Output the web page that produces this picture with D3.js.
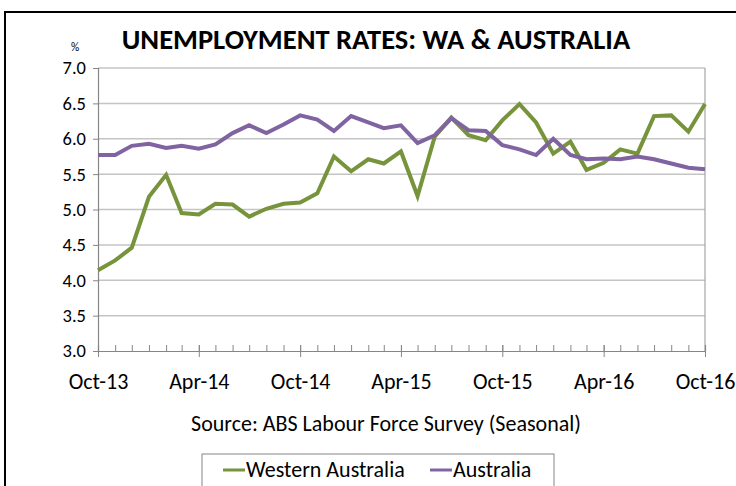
<!doctype html>
<html>
<head>
<script src="https://d3js.org/d3.v7.min.js"></script>
<style>
  body { margin: 0; background: #fff; }
  text { font-family: Carlito, "Liberation Sans Narrow", "Open Sans", sans-serif; fill: #000; }
</style>
</head>
<body>
<script>
// monthly series, Oct-13 .. Oct-16
var waRate = [4.14, 4.28, 4.46, 5.18, 5.49, 4.95, 4.93, 5.08, 5.07, 4.90,
              5.01, 5.08, 5.10, 5.23, 5.75, 5.54, 5.71, 5.65, 5.82, 5.19,
              6.03, 6.30, 6.05, 5.98, 6.26, 6.49, 6.23, 5.79, 5.96, 5.56,
              5.66, 5.85, 5.79, 6.32, 6.33, 6.10, 6.49];
var ausRate = [5.77, 5.77, 5.90, 5.93, 5.87, 5.90, 5.86, 5.92, 6.08, 6.19,
               6.08, 6.20, 6.33, 6.27, 6.11, 6.32, 6.23, 6.15, 6.19, 5.94,
               6.05, 6.29, 6.12, 6.11, 5.91, 5.85, 5.77, 6.00, 5.77, 5.71,
               5.72, 5.71, 5.75, 5.71, 5.65, 5.59, 5.57];
var yTicks = [3.0, 3.5, 4.0, 4.5, 5.0, 5.5, 6.0, 6.5, 7.0];
var seriesNames = ["Western Australia", "Australia"];

var months = d3.timeMonth.range(new Date(2013, 9, 1), new Date(2016, 10, 1));

var W = 736, H = 486;
var svg = d3.select("body").append("svg")
    .attr("width", W).attr("height", H);

// outer chart frame
svg.append("rect")
    .attr("x", 5).attr("y", 12)
    .attr("width", 800).attr("height", 600)
    .attr("fill", "none").attr("stroke", "#000").attr("stroke-width", 2);

var plot = {left: 98, right: 705, top: 68, bottom: 351};

var x = d3.scaleTime()
    .domain([months[0], months[months.length - 1]])
    .range([plot.left, plot.right]);
var y = d3.scaleLinear()
    .domain([3, 7])
    .range([plot.bottom, plot.top]);

// gridlines
svg.append("g").selectAll("line")
    .data(yTicks.slice(1))
    .enter().append("line")
    .attr("x1", plot.left).attr("x2", plot.right)
    .attr("y1", d => y(d)).attr("y2", d => y(d))
    .attr("stroke", "#c4c4c4").attr("stroke-width", 1.5);

// right border of plot area
svg.append("line")
    .attr("x1", plot.right).attr("x2", plot.right)
    .attr("y1", plot.top).attr("y2", plot.bottom)
    .attr("stroke", "#a6a6a6").attr("stroke-width", 1.2);

// y axis
var yAxis = svg.append("g")
    .attr("transform", "translate(" + plot.left + ",0)")
    .call(d3.axisLeft(y).tickValues(yTicks).tickFormat(d3.format(".1f")).tickSize(5).tickPadding(7));
yAxis.select(".domain").attr("stroke", "#868686").attr("stroke-width", 1.2);
yAxis.selectAll(".tick line").attr("stroke", "#868686");
yAxis.selectAll("text").attr("font-size", 18.5).attr("font-family", null);

// x axis: monthly minor ticks inside, 6-monthly major ticks
var xAxis = svg.append("g")
    .attr("transform", "translate(0," + plot.bottom + ")")
    .call(d3.axisBottom(x).tickValues(months).tickSize(-6).tickFormat(""));
xAxis.select(".domain").attr("stroke", "#868686").attr("stroke-width", 1.2);
xAxis.selectAll(".tick line").attr("stroke", "#868686");

var majors = months.filter((d, i) => i % 6 === 0);
var xMajor = svg.append("g")
    .attr("transform", "translate(0," + plot.bottom + ")")
    .call(d3.axisBottom(x).tickValues(majors).tickSize(6).tickPadding(16)
        .tickFormat(d3.timeFormat("%b-%y")));
xMajor.select(".domain").remove();
xMajor.selectAll(".tick line").attr("stroke", "#868686").attr("y1", -6);
xMajor.selectAll("text").attr("font-size", 22).attr("font-family", null);

// series lines
var line = d3.line()
    .x((d, i) => x(months[i]))
    .y(d => y(d));

svg.append("path").datum(waRate)
    .attr("d", line)
    .attr("fill", "none").attr("stroke", "#77933c")
    .attr("stroke-width", 4).attr("stroke-linejoin", "miter");
svg.append("path").datum(ausRate)
    .attr("d", line)
    .attr("fill", "none").attr("stroke", "#8064a2")
    .attr("stroke-width", 4).attr("stroke-linejoin", "miter");

// titles
svg.append("text")
    .attr("x", 376).attr("y", 49)
    .attr("text-anchor", "middle")
    .attr("font-size", 28.5).attr("font-weight", "bold")
    .text("UNEMPLOYMENT RATES: WA & AUSTRALIA");

svg.append("text")
    .attr("x", 75).attr("y", 51)
    .attr("text-anchor", "middle")
    .attr("font-size", 11.5)
    .text("%");

svg.append("text")
    .attr("x", 386).attr("y", 431)
    .attr("text-anchor", "middle")
    .attr("font-size", 22)
    .text("Source: ABS Labour Force Survey (Seasonal)");

// legend
var legend = svg.append("g");
legend.append("rect")
    .attr("x", 202).attr("y", 454)
    .attr("width", 352).attr("height", 60)
    .attr("fill", "#fff").attr("stroke", "#868686").attr("stroke-width", 1);

var legendX = [223, 430];
var colors = ["#77933c", "#8064a2"];
seriesNames.forEach(function (name, i) {
    legend.append("line")
        .attr("x1", legendX[i]).attr("x2", legendX[i] + 22)
        .attr("y1", 470).attr("y2", 470)
        .attr("stroke", colors[i]).attr("stroke-width", 3);
    legend.append("text")
        .attr("x", legendX[i] + 23).attr("y", 477)
        .attr("font-size", 22)
        .text(name);
});
</script>
</body>
</html>
